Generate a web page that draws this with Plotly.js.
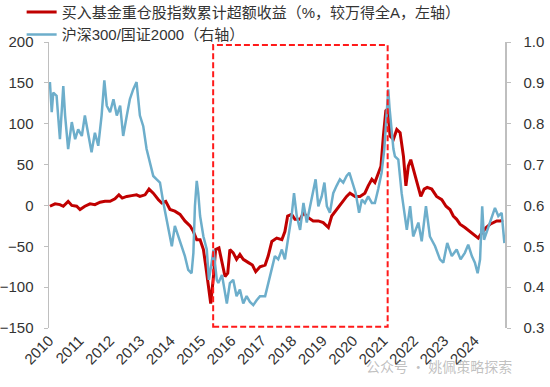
<!DOCTYPE html>
<html>
<head>
<meta charset="utf-8">
<script src="https://cdn.plot.ly/plotly-3.0.1.min.js"></script>
<style>html,body{margin:0;padding:0;background:#fff;}#chart{width:550px;height:387px;}</style>
</head>
<body>
<div id="chart"></div>
<script>
// Series names
const nameRed = '买入基金重仓股指数累计超额收益（%，较万得全A，左轴）';
const nameBlue = '沪深300/国证2000（右轴）';
// Year tick labels
const yearTicks = [2010,2011,2012,2013,2014,2015,2016,2017,2018,2019,2020,2021,2022,2023,2024];
const yearLabels = yearTicks.map(String);

// Red series: cumulative excess return (%), x in decimal years
const redX = [2010.03,2010.20,2010.36,2010.47,2010.63,2010.75,2010.91,2011.02,2011.18,2011.35,2011.51,2011.68,2011.84,
  2012.01,2012.17,2012.30,2012.41,2012.56,2012.72,2012.88,2012.99,2013.16,2013.29,2013.43,2013.60,2013.71,2013.84,2013.98,
  2014.14,2014.31,2014.47,2014.64,2014.75,2014.86,2014.97,2015.08,2015.16,2015.24,2015.32,2015.41,2015.48,2015.59,2015.70,
  2015.79,2015.88,2015.95,2016.06,2016.17,2016.28,2016.39,2016.56,2016.69,2016.80,2016.94,2017.11,2017.21,2017.33,2017.49,
  2017.66,2017.76,2017.85,2017.98,2018.09,2018.26,2018.37,2018.53,2018.69,2018.86,2019.02,2019.19,2019.30,2019.46,2019.63,
  2019.79,2019.90,2020.07,2020.23,2020.39,2020.50,2020.62,2020.72,2020.83,2020.92,2021.00,2021.08,2021.14,2021.22,2021.33,
  2021.44,2021.55,2021.66,2021.74,2021.82,2021.90,2022.01,2022.12,2022.23,2022.34,2022.44,2022.59,2022.75,2022.92,2023.06,
  2023.19,2023.30,2023.41,2023.52,2023.68,2023.85,2024.01,2024.12,2024.23,2024.38,2024.51,2024.62,2024.73,2024.84,2024.94];
const redY = [-1,2,1,-1,5,0,-1,-5,-1,2,1,4,5,
  5,8,13,9,11,12,13,11,13,20,15,7,3,5,-5,
  -7,-11,-19,-25,-32,-42,-42,-54,-75,-99,-120,-87,-54,-52,-70,
  -87,-83,-54,-58,-66,-60,-66,-70,-73,-81,-75,-73,-62,-44,-40,
  -42,-32,-13,-11,-17,-17,-9,-15,-19,-19,-21,-27,-13,-5,3,
  11,15,11,11,15,24,32,28,40,48,85,116,118,85,81,
  93,89,60,24,48,56,40,24,11,20,22,20,11,7,-1,
  -5,-13,-17,-23,-27,-32,-36,-40,-34,-27,-23,-21,-19,-19,-18];

// Blue series: CSI300 / CNI2000 ratio (right axis)
const blueX = [2010.03,2010.09,2010.14,2010.25,2010.36,2010.47,2010.53,2010.63,2010.75,2010.86,2010.96,2011.08,2011.18,
  2011.29,2011.40,2011.51,2011.62,2011.73,2011.82,2011.90,2012.01,2012.12,2012.23,2012.34,2012.44,2012.56,2012.66,2012.77,
  2012.88,2012.99,2013.10,2013.21,2013.32,2013.43,2013.54,2013.65,2013.76,2013.87,2013.98,2014.04,2014.14,2014.25,2014.37,
  2014.47,2014.58,2014.69,2014.75,2014.80,2014.86,2014.91,2014.97,2015.08,2015.19,2015.26,2015.35,2015.41,2015.52,2015.57,
  2015.69,2015.85,2015.95,2016.06,2016.17,2016.28,2016.39,2016.50,2016.61,2016.72,2016.83,2016.94,2017.11,2017.21,2017.33,
  2017.43,2017.54,2017.66,2017.76,2017.87,2017.98,2018.06,2018.15,2018.26,2018.37,2018.48,2018.59,2018.69,2018.77,2018.86,
  2018.97,2019.06,2019.14,2019.24,2019.35,2019.46,2019.57,2019.68,2019.79,2019.88,2019.98,2020.09,2020.20,2020.29,2020.39,
  2020.50,2020.62,2020.72,2020.83,2020.94,2021.03,2021.11,2021.16,2021.20,2021.25,2021.33,2021.38,2021.49,2021.60,2021.77,
  2021.88,2021.98,2022.15,2022.26,2022.40,2022.53,2022.70,2022.86,2022.97,2023.10,2023.25,2023.41,2023.54,2023.68,2023.79,
  2023.91,2024.01,2024.10,2024.18,2024.25,2024.31,2024.42,2024.53,2024.67,2024.78,2024.89,2024.98];
const blueY = [0.902,0.828,0.876,0.868,0.762,0.892,0.820,0.738,0.804,0.762,0.786,0.770,0.820,
  0.770,0.730,0.778,0.746,0.820,0.906,0.844,0.828,0.860,0.820,0.844,0.770,0.820,0.860,0.884,
  0.902,0.820,0.794,0.738,0.704,0.672,0.664,0.656,0.607,0.566,0.516,0.500,0.550,0.524,0.500,
  0.476,0.442,0.434,0.484,0.598,0.660,0.630,0.574,0.524,0.492,0.418,0.460,0.492,0.418,0.410,
  0.430,0.360,0.410,0.418,0.378,0.394,0.360,0.378,0.364,0.356,0.368,0.378,0.378,0.410,0.450,
  0.476,0.468,0.492,0.468,0.524,0.574,0.630,0.574,0.540,0.606,0.558,0.598,0.640,0.664,0.598,
  0.622,0.656,0.598,0.582,0.630,0.648,0.664,0.656,0.672,0.680,0.656,0.630,0.582,0.614,0.606,
  0.622,0.606,0.606,0.640,0.680,0.738,0.836,0.884,0.840,0.794,0.738,0.720,0.712,0.630,0.540,
  0.598,0.524,0.558,0.512,0.598,0.524,0.500,0.468,0.460,0.508,0.476,0.492,0.468,0.484,0.504,
  0.476,0.460,0.434,0.468,0.598,0.516,0.540,0.566,0.594,0.574,0.582,0.508];

const RED = '#C00000', BLUE = '#6DAECB', AXIS = '#BFBFBF', TXT = '#333333';
const FONT = 'Liberation Sans, Arial, "Noto Sans CJK SC", sans-serif';

const traces = [
  {x: redX, y: redY, name: nameRed, type: 'scatter', mode: 'lines',
   line: {color: RED, width: 3}, xaxis: 'x', yaxis: 'y'},
  {x: blueX, y: blueY, name: nameBlue, type: 'scatter', mode: 'lines',
   line: {color: BLUE, width: 2.5}, xaxis: 'x', yaxis: 'y2'}
];

const layout = {
  width: 550, height: 387,
  margin: {l: 49, r: 45, t: 42, b: 59, pad: 0, autoexpand: false},
  paper_bgcolor: '#fff', plot_bgcolor: '#fff',
  font: {family: FONT, size: 15, color: TXT},
  showlegend: true,
  legend: {x: -0.06, y: 1.162, xanchor: 'left', yanchor: 'top', orientation: 'v',
    font: {family: FONT, size: 15, color: TXT}, bgcolor: 'rgba(0,0,0,0)',
    tracegroupgap: 0, itemwidth: 30},
  xaxis: {range: [2010, 2025], tickvals: yearTicks, ticktext: yearLabels, tickangle: -45,
    showgrid: false, zeroline: false, showline: false, ticks: '', automargin: false,
    tickfont: {family: FONT, size: 15, color: TXT}},
  xaxis2: {overlaying: 'x', anchor: 'free', position: 150/350, range: [2010, 2025],
    dtick: 1, tick0: 2010, showticklabels: false, showgrid: false, zeroline: false,
    showline: true, linecolor: AXIS, linewidth: 1, ticks: 'outside', ticklen: 4, tickcolor: AXIS},
  yaxis: {range: [-150, 200], dtick: 50, tick0: -150, showgrid: false, zeroline: false, automargin: false,
    showline: true, linecolor: AXIS, linewidth: 1.5, ticks: 'outside', ticklen: 4, tickcolor: AXIS,
    ticklabelstandoff: 7, tickfont: {family: FONT, size: 15, color: TXT}},
  yaxis2: {range: [0.3, 1.0], dtick: 0.1, tick0: 0.3, tickformat: '.1f', overlaying: 'y', side: 'right',
    showgrid: false, zeroline: false, showline: true, linecolor: AXIS, linewidth: 1.5, automargin: false,
    ticks: 'outside', ticklen: 4, tickcolor: AXIS, ticklabelstandoff: 10,
    tickfont: {family: FONT, size: 15, color: TXT}},
  shapes: [{type: 'rect', xref: 'x', yref: 'y', x0: 2015.40, x1: 2021.14, y0: -148.4, y1: 196.4,
    line: {color: '#FF1A1A', width: 2, dash: '6px,3px'}, fillcolor: 'rgba(0,0,0,0)', layer: 'above'}],
  annotations: [{text: '公众号 · 姚佩策略探索', xref: 'paper', yref: 'paper', x: 1.02, y: -0.09,
    xanchor: 'right', yanchor: 'top', showarrow: false,
    font: {family: '"Noto Sans CJK SC", sans-serif', size: 14, color: 'rgba(140,140,140,0.55)'}}]
};

Plotly.newPlot('chart', traces, layout, {displayModeBar: false, staticPlot: true});
</script>
</body>
</html>
